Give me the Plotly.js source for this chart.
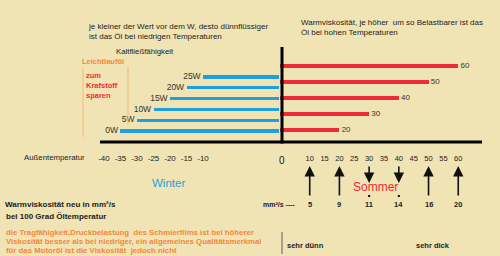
<!DOCTYPE html>
<html>
<head>
<meta charset="utf-8">
<script src="https://cdn.plot.ly/plotly-3.0.1.min.js"></script>
<style>html,body{margin:0;padding:0;background:#F1E4B4;}#chart{width:500px;height:256px;}</style>
</head>
<body>
<div id="chart"></div>
<script>
// ---- data ----
const winterGrades = ['0W', '5W', '10W', '15W', '20W', '25W'];
const coldStartTemps = [-35, -30, -25, -20, -15, -10];
const winterTicks = [-40, -35, -30, -25, -20, -15, -10];
const summerGrades = ['20', '30', '40', '50', '60'];
const summerGradeValues = [20, 30, 40, 50, 60];
const summerTicks = [10, 15, 20, 25, 30, 35, 40, 45, 50, 55, 60];
const arrowGrades = [10, 20, 30, 40, 50, 60];
const viscosities = ['5', '9', '11', '14', '16', '20'];
const arrowDirections = ['up', 'up', 'down', 'down', 'up', 'up'];
const dotGrades = [30, 40];

// ---- layout helpers ----
const W = 500, H = 256;
const px = v => v / W;
const py = v => 1 - v / H;
const FONT = 'Arial, "Liberation Sans", sans-serif';
const BLUE = '#1E9FDF', RED = '#EC2C36', ORANGE = '#F4873A', DARK = '#222222';
const WINTER_RANGE = [-41.21, 13.03];
const NB = '\u00a0';

const traces = [
  {
    type: 'bar', orientation: 'h', xaxis: 'x', yaxis: 'y',
    y: winterGrades, base: coldStartTemps,
    x: coldStartTemps.map(t => WINTER_RANGE[1] - t),
    width: 0.3, marker: {color: BLUE}, hoverinfo: 'skip'
  },
  {
    type: 'scatter', mode: 'text', xaxis: 'x', yaxis: 'y',
    x: coldStartTemps, y: winterGrades, text: winterGrades.map(s => s + NB),
    textposition: 'middle left', textfont: {family: FONT, size: 8.5, color: '#333'},
    hoverinfo: 'skip', cliponaxis: false
  },
  {
    type: 'bar', orientation: 'h', xaxis: 'x2', yaxis: 'y2',
    y: summerGrades, x: summerGradeValues, base: 0,
    width: 0.2, marker: {color: RED}, hoverinfo: 'skip'
  },
  {
    type: 'scatter', mode: 'text', xaxis: 'x2', yaxis: 'y2',
    x: summerGradeValues, y: summerGrades, text: summerGrades.map(s => NB + s),
    textposition: 'middle right', textfont: {family: FONT, size: 8, color: '#333'},
    hoverinfo: 'skip', cliponaxis: false
  }
];

const ann = [];
function txt(text, x, y, size, color, opts) {
  ann.push(Object.assign({
    text: text, x: px(x), y: py(y), xref: 'paper', yref: 'paper',
    xanchor: 'left', yanchor: 'middle', showarrow: false, align: 'left',
    font: {family: FONT, size: size, color: color}
  }, opts || {}));
}
txt('je kleiner der Wert vor dem W, desto dünnflüssiger<br>ist das Öl bei niedrigen Temperaturen', 86, 31.5, 8, DARK);
txt('Warmviskosität, je höher&nbsp; um so Belastbarer ist das<br>Öl bei hohen Temperaturen', 299, 27.5, 8, DARK);
txt('Kaltfließfähigkeit', 114, 51, 7.8, DARK);
txt('<b>Leichtlauföl</b>', 80, 61, 7.5, ORANGE);
txt('<b>zum<br>Krafstoff<br>sparen</b>', 84, 85, 7.5, RED);
txt('Außentemperatur', 22, 157, 7.8, DARK);
txt('Winter', 168, 183, 11.5, BLUE, {xanchor: 'center'});
txt('Sommer', 375, 187, 12, RED, {xanchor: 'center'});
txt('<b>mm²/s ----</b>', 261, 204, 7, DARK);
txt('<b>Warmviskosität neu in mm²/s</b>', 3, 204, 8, DARK);
txt('<b>bei 100 Grad Öltemperatur</b>', 4, 216, 8, DARK);
txt('<b>die Tragfähigkeit,Druckbelastung&nbsp; des Schmierfilms ist bei höherer</b>', 4, 232, 7.8, ORANGE);
txt('<b>Viskosität besser als bei niedriger, ein allgemeines Qualitätsmerkmal</b>', 4, 241, 7.8, ORANGE);
txt('<b>für das Motoröl ist die Viskosität&nbsp; jedoch nicht</b>', 4, 250, 7.8, ORANGE);
txt('<b>sehr dünn</b>', 285, 245, 7.5, DARK);
txt('<b>sehr dick</b>', 414, 245, 7.5, DARK);

// "0" label at the vertical axis
ann.push({text: '0', xref: 'x2', yref: 'paper', x: 0, xshift: 2, y: py(160),
  showarrow: false, xanchor: 'center', yanchor: 'middle',
  font: {family: FONT, size: 10, color: DARK}});

// viscosity values + arrows
arrowGrades.forEach((g, i) => {
  ann.push({text: '<b>' + viscosities[i] + '</b>', xref: 'x2', yref: 'paper', x: g, y: py(204),
    showarrow: false, xanchor: 'center', yanchor: 'middle',
    font: {family: FONT, size: 7.5, color: DARK}});
  const up = arrowDirections[i] === 'up';
  ann.push({text: '', xref: 'x2', yref: 'paper', x: g, y: py(up ? 166 : 183),
    ax: 0, ay: up ? 31 : -18, showarrow: true, arrowhead: 2, arrowsize: 1.3,
    arrowwidth: 1.6, arrowcolor: '#111'});
});

const line = (x0, y0, x1, y1, color, width) => ({
  type: 'line', xref: 'paper', yref: 'paper',
  x0: px(x0), y0: py(y0), x1: px(x1), y1: py(y1),
  line: {color: color, width: width}
});

const shapes = [
  line(83, 67, 83, 137, '#F5B87E', 1),
  line(128, 67, 128, 125, '#F5B87E', 1),
  line(100, 142, 482, 142, '#000', 3),
  line(282, 47, 282, 143.5, '#000', 3),
  line(282, 232, 282, 254, '#8A8A80', 1.5)
];
// small dots under the down arrows
dotGrades.forEach(g => {
  shapes.push({type: 'rect', xref: 'x2', yref: 'paper',
    x0: g - 0.35, x1: g + 0.35, y0: py(197), y1: py(195),
    fillcolor: '#111', line: {width: 0}});
});

const layout = {
  width: W, height: H,
  margin: {l: 0, r: 0, t: 0, b: 0},
  paper_bgcolor: '#F1E4B4', plot_bgcolor: 'rgba(0,0,0,0)',
  showlegend: false, bargap: 0,
  xaxis: {
    domain: [px(100), px(279)], range: WINTER_RANGE, anchor: 'free', position: py(142),
    tickmode: 'array', tickvals: winterTicks, ticktext: winterTicks.map(v => String(v)),
    ticks: '', ticklabelstandoff: 10,
    showgrid: false, zeroline: false, showline: false, fixedrange: true,
    tickfont: {family: FONT, size: 8, color: DARK}
  },
  xaxis2: {
    domain: [px(280), px(482)], range: [0, 68.0], anchor: 'free', position: py(142),
    tickmode: 'array', tickvals: summerTicks, ticks: '', ticklabelstandoff: 10,
    showgrid: false, zeroline: false, showline: false, fixedrange: true,
    tickfont: {family: FONT, size: 7.5, color: DARK}
  },
  yaxis: {
    domain: [py(136.4), py(71.6)], anchor: 'x', type: 'category',
    range: [-0.5, 5.5], visible: false, fixedrange: true
  },
  yaxis2: {
    domain: [py(138), py(58)], anchor: 'x2', type: 'category',
    range: [-0.5, 4.5], visible: false, fixedrange: true
  },
  annotations: ann,
  shapes: shapes
};

Plotly.newPlot('chart', traces, layout, {displayModeBar: false, staticPlot: true});
</script>
</body>
</html>
